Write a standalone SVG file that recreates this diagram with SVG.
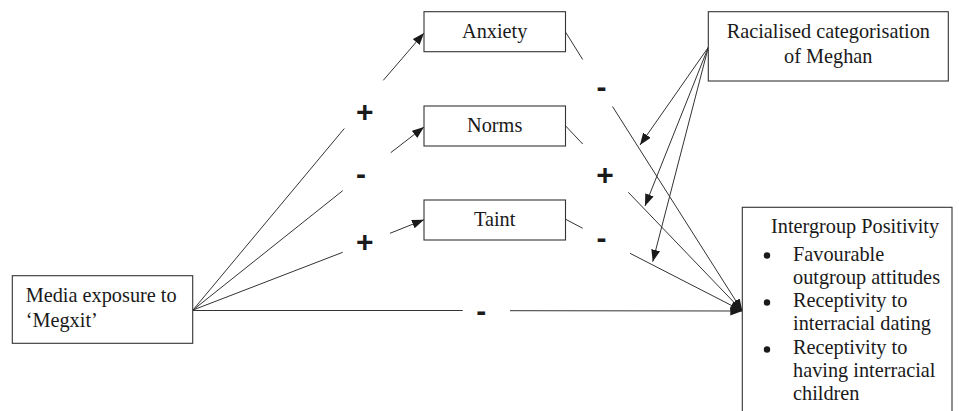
<svg xmlns="http://www.w3.org/2000/svg" width="959" height="411" viewBox="0 0 959 411">
<style>
.box{fill:#fff;stroke:#333;stroke-width:1.1}
.t{font-family:"Liberation Serif","Times New Roman",Times,serif;font-size:20.3px;fill:#1a1a1a}
.c{text-anchor:middle}
.s{font-family:"Liberation Sans",Arial,sans-serif;font-size:30px;font-weight:bold;fill:#1a1a1a;text-anchor:middle}
.ln{stroke:#333;stroke-width:1;fill:none}
.ar{marker-end:url(#ah)}
</style>
<defs>
<marker id="ah" markerUnits="userSpaceOnUse" markerWidth="13" markerHeight="10" refX="12" refY="4.5" orient="auto">
<path d="M0,0 L12,4.5 L0,9 z" fill="#1a1a1a"/>
</marker>
</defs>
<rect width="959" height="411" fill="#fff"/>
<g id="connectors">
<line class="ln" x1="193" y1="310" x2="344.3" y2="128.5"/>
<line class="ln ar" x1="383.3" y1="80.3" x2="424" y2="33"/>
<line class="ln" x1="193" y1="310" x2="342.7" y2="190.7"/>
<line class="ln ar" x1="390.7" y1="152.7" x2="424" y2="127"/>
<line class="ln" x1="193" y1="310" x2="342.7" y2="252.3"/>
<line class="ln ar" x1="390" y1="233.3" x2="424" y2="219.7"/>
<line class="ln" x1="193" y1="310.5" x2="462.7" y2="310.5"/>
<line class="ln ar" x1="510" y1="310.7" x2="742.3" y2="311"/>
<line class="ln" x1="565.7" y1="32.3" x2="582.7" y2="59.5"/>
<line class="ln ar" x1="612.5" y1="106.5" x2="742.3" y2="311"/>
<line class="ln" x1="565.7" y1="126" x2="582.7" y2="144"/>
<line class="ln ar" x1="628.3" y1="192.3" x2="742.3" y2="311"/>
<line class="ln" x1="565.7" y1="219.3" x2="582.7" y2="228.3"/>
<line class="ln ar" x1="630" y1="253.3" x2="742.3" y2="311"/>
<line class="ln ar" x1="708.3" y1="47.3" x2="640" y2="145"/>
<line class="ln ar" x1="708.3" y1="47.3" x2="645" y2="206"/>
<line class="ln ar" x1="708.3" y1="47.3" x2="652.7" y2="261.7"/>
</g>
<g id="signs">
<text class="s" x="364.7" y="121.5">+</text>
<text class="s" x="361" y="183.5">-</text>
<text class="s" x="364.7" y="251.5">+</text>
<text class="s" x="481.2" y="320.5">-</text>
<text class="s" x="601.5" y="97">-</text>
<text class="s" x="605" y="184.5">+</text>
<text class="s" x="601.5" y="248">-</text>
</g>
<g id="media">
<rect class="box" x="12.3" y="275.7" width="180.4" height="67.6"/>
<text class="t" x="25.7" y="302.3">Media exposure to</text>
<text class="t" x="25.7" y="326.7">‘Megxit’</text>
</g>
<g id="anxiety">
<rect class="box" x="424" y="11.7" width="141.5" height="40"/>
<text class="t c" x="494.7" y="37.7">Anxiety</text>
</g>
<g id="norms">
<rect class="box" x="424" y="106" width="141.5" height="40"/>
<text class="t c" x="494.7" y="131.7">Norms</text>
</g>
<g id="taint">
<rect class="box" x="424" y="200" width="141.5" height="40"/>
<text class="t c" x="494.7" y="226">Taint</text>
</g>
<g id="racialised">
<rect class="box" x="708.3" y="11.7" width="240" height="69.3"/>
<text class="t c" x="828.3" y="37.7">Racialised categorisation</text>
<text class="t c" x="828.3" y="63.3">of Meghan</text>
</g>
<g id="intergroup">
<rect class="box" x="742.3" y="207.3" width="209.7" height="220"/>
<text class="t" x="771" y="233">Intergroup Positivity</text>
<circle cx="767" cy="255.5" r="3.2" fill="#1a1a1a"/>
<text class="t" x="793" y="260.7">Favourable</text>
<text class="t" x="793" y="283.9">outgroup attitudes</text>
<circle cx="767" cy="302.5" r="3.2" fill="#1a1a1a"/>
<text class="t" x="793" y="307.1">Receptivity to</text>
<text class="t" x="793" y="330.3">interracial dating</text>
<circle cx="767" cy="349.5" r="3.2" fill="#1a1a1a"/>
<text class="t" x="793" y="353.5">Receptivity to</text>
<text class="t" x="793" y="376.7">having interracial</text>
<text class="t" x="793" y="400">children</text>
</g>
</svg>
